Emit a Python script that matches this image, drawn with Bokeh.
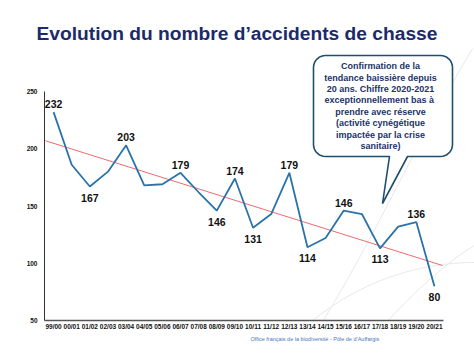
import math
from bokeh.plotting import figure
from bokeh.models import FixedTicker, Title, Range1d
from bokeh.core.properties import value
from bokeh.embed import file_html
from bokeh.resources import INLINE

# ---------------- data ----------------
seasons = ["99/00", "00/01", "01/02", "02/03", "03/04", "04/05", "05/06", "06/07",
           "07/08", "08/09", "09/10", "10/11", "11/12", "12/13", "13/14", "14/15",
           "15/16", "16/17", "17/18", "18/19", "19/20", "20/21"]
accidents = [232, 186, 167, 180, 203, 168, 169, 179, 162, 146, 174, 131, 143, 179,
             114, 122, 146, 143, 113, 132, 136, 80]
labeled_idx = [0, 2, 4, 7, 9, 10, 11, 13, 14, 16, 18, 20, 21]
labeled_side = ["above", "below", "above", "above", "below", "above", "below",
                "above", "below", "above", "below", "above", "below"]
trend_x = [-0.45, 21.45]
trend_y = [207, 98]
y_ticks = [50, 100, 150, 200, 250]

title_text = "Evolution du nombre d\u2019accidents de chasse"
callout_lines = ["Confirmation de la", "tendance baissi\u00e8re depuis",
                 "20 ans. Chiffre 2020-2021", "exceptionnellement bas  \u00e0",
                 "prendre avec r\u00e9serve", "(activit\u00e9 cyn\u00e9g\u00e9tique",
                 "impact\u00e9e par la crise", "sanitaire)"]
footer_text = "Office fran\u00e7ais de la biodiversit\u00e9  -  P\u00f4le de d\u2019Auffargis"

# ---------------- geometry ----------------
W, H = 474, 356
FL, FR, FT, FB = 44, 474, 48, 320          # frame edges in canvas px
X_PX = 399 / 22.0                          # px per category
Y_PX = 1.145                               # px per accident
x0 = -0.5
x1 = x0 + (FR - FL) / X_PX
y0 = 50
y1 = y0 + (FB - FT) / Y_PX

def xd(px):
    return x0 + (px - FL) / X_PX

def yd(py):
    return y0 + (FB - py) / Y_PX

p = figure(width=W, height=H, output_backend="svg", toolbar_location=None,
           x_range=Range1d(x0, x1), y_range=Range1d(y0, y1),
           min_border_left=FL, min_border_right=W - FR, min_border_top=FT,
           min_border_bottom=H - FB)
p.outline_line_color = None
p.xgrid.grid_line_color = None
p.ygrid.grid_line_color = None
p.background_fill_color = "white"
p.border_fill_color = "white"

# title
p.title.text = title_text
p.title.align = "left"
p.title.offset = -8
p.title.text_font = "Liberation Sans"
p.title.text_font_size = "19.2px"
p.title.text_font_style = "bold"
p.title.text_color = "#1B2A6B"

# footer
p.add_layout(Title(text=footer_text, align="left", offset=206, standoff=3,
                   text_font="Liberation Sans", text_font_size="5.5px",
                   text_font_style="normal", text_color="#4A78B8"), "below")

# faint decorative swooshes (slide template)
sw = dict(line_color="#e8e8e8", line_width=1.0)
p.bezier(x0=[xd(300)], y0=[yd(356)], x1=[xd(474)], y1=[yd(45)],
         cx0=[xd(370)], cy0=[yd(250)], cx1=[xd(410)], cy1=[yd(150)], **sw)
p.bezier(x0=[xd(290)], y0=[yd(340)], x1=[xd(474)], y1=[yd(262)],
         cx0=[xd(350)], cy0=[yd(280)], cx1=[xd(420)], cy1=[yd(262)], **sw)
p.bezier(x0=[xd(370)], y0=[yd(340)], x1=[xd(474)], y1=[yd(245)],
         cx0=[xd(400)], cy0=[yd(305)], cx1=[xd(440)], cy1=[yd(265)], **sw)

# axes
xs = list(range(len(seasons)))
p.xaxis.ticker = FixedTicker(ticks=xs)
p.xaxis.major_label_overrides = {i: s for i, s in enumerate(seasons)}
p.xaxis.bounds = (-0.5, len(seasons) - 0.5)
p.yaxis.ticker = FixedTicker(ticks=y_ticks)
p.yaxis.bounds = (y_ticks[0], y_ticks[-1])
for ax in (p.xaxis, p.yaxis):
    ax.major_tick_out = 0
    ax.major_tick_in = 0
    ax.minor_tick_out = 0
    ax.minor_tick_in = 0
    ax.major_label_text_font = "Liberation Sans"
    ax.major_label_text_font_style = "bold"
    ax.major_label_text_font_size = "6.5px"
    ax.major_label_text_color = "#111111"
p.xaxis.axis_line_color = "#555555"
p.xaxis.axis_line_width = 1.6
p.xaxis.major_label_standoff = 2
p.yaxis.axis_line_color = "#333333"
p.yaxis.axis_line_width = 1
p.yaxis.major_label_standoff = 7

# trend line
p.line(trend_x, trend_y, line_color="#EE6A6E", line_width=1)

# data line
p.line(xs, accidents, line_color="#2A73A8", line_width=1.8)

# value labels
above_x = [xs[i] for i, s in zip(labeled_idx, labeled_side) if s == "above"]
above_y = [accidents[i] for i, s in zip(labeled_idx, labeled_side) if s == "above"]
below_x = [xs[i] for i, s in zip(labeled_idx, labeled_side) if s == "below"]
below_y = [accidents[i] for i, s in zip(labeled_idx, labeled_side) if s == "below"]
p.text(above_x, above_y, text=[str(v) for v in above_y], text_align="center",
       text_baseline="bottom", y_offset=-4, text_font=value("Liberation Sans"),
       text_font_style="bold", text_font_size="10.5px", text_color="#111111")
p.text(below_x, below_y, text=[str(v) for v in below_y], text_align="center",
       text_baseline="top", y_offset=7, text_font=value("Liberation Sans"),
       text_font_style="bold", text_font_size="10.5px", text_color="#111111")

# callout bubble (rounded rectangle with a tail)
bl, br, bt, bb, r = 313, 452, 55, 156, 12
tail_l, tail_r, tip = (389, 156), (407, 156), (382, 203)
pts = []
def arc(cx, cy, a0, a1, n=8):
    for k in range(n + 1):
        a = math.radians(a0 + (a1 - a0) * k / n)
        pts.append((cx + r * math.cos(a), cy - r * math.sin(a)))
pts.append((bl + r, bt))
pts.append((br - r, bt))
arc(br - r, bt + r, 90, 0)
pts.append((br, bb - r))
arc(br - r, bb - r, 0, -90)
pts.append(tail_r)
pts.append(tip)
pts.append(tail_l)
pts.append((bl + r, bb))
arc(bl + r, bb - r, 270, 180)
pts.append((bl, bt + r))
arc(bl + r, bt + r, 180, 90)
p.patch([xd(a) for a, b in pts], [yd(b) for a, b in pts], fill_color="white",
        line_color="#1F4E6E", line_width=1.6)

cx = 380
line_px = [65.7 + 11.4 * k for k in range(len(callout_lines))]
p.text([xd(cx)] * len(callout_lines), [yd(v) for v in line_px], text=callout_lines,
       text_align="center", text_baseline="middle", text_font=value("Liberation Sans"),
       text_font_style="bold", text_font_size="9px", text_color="#1B3368")

open("out.html", "w").write(file_html(p, INLINE))
